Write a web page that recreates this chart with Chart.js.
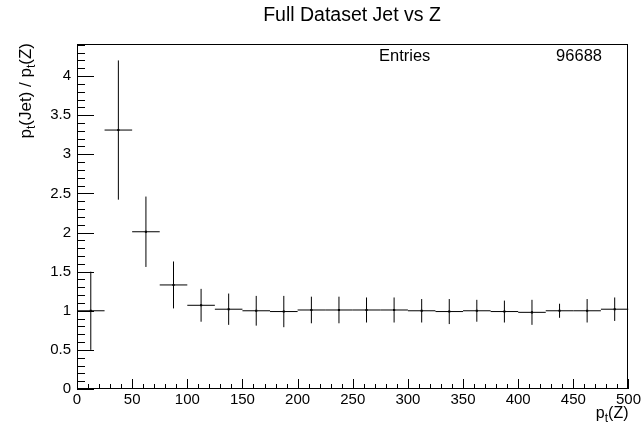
<!DOCTYPE html>
<html>
<head>
<meta charset="utf-8">
<script src="https://cdn.jsdelivr.net/npm/chart.js@4.4.1/dist/chart.umd.min.js"></script>
<style>
    html, body { margin: 0; padding: 0; background: #fff; }
    #wrap { width: 643px; height: 430px; }
</style>
</head>
<body>
<div id="wrap"><canvas id="ratioChart" width="643" height="430"></canvas></div>
<script>
    // bin centres of pt(Z), 25 GeV wide bins
    const binCenters = [12.5, 37.5, 62.5, 87.5, 112.5, 137.5, 162.5, 187.5, 212.5, 237.5,
        262.5, 287.5, 312.5, 337.5, 362.5, 387.5, 412.5, 437.5, 462.5, 487.5];
    const binHalfWidth = 12.5;
    const ratioValues = [1.00, 3.31, 2.01, 1.33, 1.07, 1.02, 1.00, 0.99, 1.01, 1.01,
        1.01, 1.01, 1.00, 0.99, 1.00, 0.99, 0.98, 1.00, 1.00, 1.02];
    const ratioErrors = [0.50, 0.89, 0.45, 0.30, 0.21, 0.20, 0.19, 0.20, 0.17, 0.17,
        0.16, 0.16, 0.15, 0.16, 0.14, 0.14, 0.16, 0.09, 0.15, 0.15];
    const xTicks = [0, 50, 100, 150, 200, 250, 300, 350, 400, 450, 500];
    const yTicks = [0, 0.5, 1, 1.5, 2, 2.5, 3, 3.5, 4];
    const entries = "96688";

    const font = "'Liberation Sans', Arial, Helvetica, sans-serif";
    const ink = "#000";

    function hBars() {
        const pts = [];
        binCenters.forEach((c, i) => {
            pts.push({ x: c - binHalfWidth, y: ratioValues[i] });
            pts.push({ x: c + binHalfWidth, y: ratioValues[i] });
            pts.push({ x: c, y: null });
        });
        return pts;
    }

    function vBars() {
        const pts = [];
        binCenters.forEach((c, i) => {
            pts.push({ x: c, y: ratioValues[i] - ratioErrors[i] });
            pts.push({ x: c, y: ratioValues[i] + ratioErrors[i] });
            pts.push({ x: c, y: null });
        });
        return pts;
    }

    // ROOT-like decorations: frame, inner ticks, title, stats, axis titles
    const rootStyle = {
        id: "rootStyle",
        afterDraw(chart) {
            const ctx = chart.ctx;
            const a = chart.chartArea;
            const xs = chart.scales.x;
            const ys = chart.scales.y;
            ctx.save();
            ctx.strokeStyle = ink;
            ctx.lineWidth = 1;
            ctx.strokeRect(Math.round(a.left) + 0.5, Math.round(a.top) + 0.5,
                Math.round(a.right - a.left) - 1, Math.round(a.bottom - a.top) - 1);

            ctx.beginPath();
            for (let v = 0; v <= 500 + 1e-6; v += 10) {
                const px = Math.round(xs.getPixelForValue(v)) + 0.5;
                const len = Math.abs(v % 50) < 1e-6 ? 10 : 5;
                ctx.moveTo(px, a.bottom);
                ctx.lineTo(px, a.bottom - len);
            }
            for (let v = 0; v <= ys.max + 1e-6; v += 0.1) {
                const py = Math.round(ys.getPixelForValue(v)) + 0.5;
                const major = Math.abs(v / 0.5 - Math.round(v / 0.5)) < 1e-6;
                ctx.moveTo(a.left, py);
                ctx.lineTo(a.left + (major ? 17 : 8), py);
            }
            ctx.stroke();

            ctx.fillStyle = ink;
            ctx.textBaseline = "alphabetic";
            ctx.font = "19.5px " + font;
            ctx.textAlign = "center";
            ctx.fillText("Full Dataset Jet vs Z", 352, 21);

            ctx.font = "16.5px " + font;
            ctx.textAlign = "left";
            ctx.fillText("Entries", 379, 61);
            ctx.textAlign = "right";
            ctx.fillText(entries, 602, 61);

            drawSubText(ctx, [["p", 0], ["t", 1], ["(Z)", 0]], a.right, 418, 16);

            ctx.save();
            ctx.translate(31, a.top - 1);
            ctx.rotate(-Math.PI / 2);
            drawSubText(ctx, [["p", 0], ["t", 1], ["(Jet) / p", 0], ["t", 1], ["(Z)", 0]], 0, 0, 17);
            ctx.restore();
            ctx.restore();
        }
    };

    // draws text right-aligned at x, with subscript pieces
    function drawSubText(ctx, parts, x, y, size) {
        const big = size + "px " + font;
        const small = Math.round(size * 0.72) + "px " + font;
        let w = 0;
        parts.forEach(([t, sub]) => { ctx.font = sub ? small : big; w += ctx.measureText(t).width; });
        let cx = x - w;
        ctx.textAlign = "left";
        parts.forEach(([t, sub]) => {
            ctx.font = sub ? small : big;
            ctx.fillText(t, cx, y + (sub ? 4 : 0));
            cx += ctx.measureText(t).width;
        });
    }

    const tickFont = { family: font, size: 15 };

    new Chart(document.getElementById("ratioChart"), {
        type: "scatter",
        data: {
            datasets: [
                { data: hBars(), showLine: true, spanGaps: false, borderColor: ink, borderWidth: 1, pointRadius: 0 },
                { data: vBars(), showLine: true, spanGaps: false, borderColor: ink, borderWidth: 1, pointRadius: 0 },
                {
                    data: binCenters.map((c, i) => ({ x: c, y: ratioValues[i] })),
                    pointStyle: "rect", pointRadius: 1.5, backgroundColor: ink, borderColor: ink, borderWidth: 0
                }
            ]
        },
        options: {
            responsive: false,
            animation: false,
            events: [],
            layout: { padding: { top: 44, right: 14, left: 0, bottom: 0 } },
            plugins: { legend: { display: false }, tooltip: { enabled: false } },
            scales: {
                x: {
                    type: "linear", min: 0, max: 500,
                    afterBuildTicks: s => { s.ticks = xTicks.map(v => ({ value: v })); },
                    afterFit: s => { s.height = 41; },
                    grid: { display: false, drawTicks: false },
                    border: { display: false },
                    ticks: { color: ink, font: tickFont, padding: 2, maxRotation: 0, autoSkip: false }
                },
                y: {
                    type: "linear", min: 0, max: 4.41,
                    afterBuildTicks: s => { s.ticks = yTicks.map(v => ({ value: v })); },
                    afterFit: s => { s.width = 77; },
                    grid: { display: false, drawTicks: false },
                    border: { display: false },
                    ticks: { color: ink, font: tickFont, padding: 6, autoSkip: false, callback: v => String(+v.toFixed(2)) }
                }
            }
        },
        plugins: [rootStyle]
    });
</script>
</body>
</html>
